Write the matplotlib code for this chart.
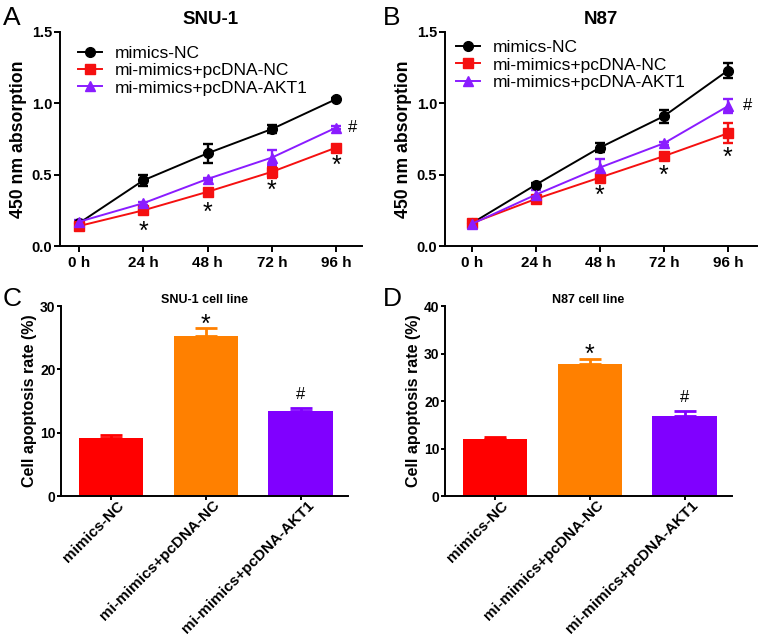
import matplotlib
matplotlib.use('Agg')
import matplotlib.pyplot as plt
from matplotlib.lines import Line2D
import matplotlib.transforms as mtransforms

plt.rcParams['font.family'] = ['Liberation Sans', 'DejaVu Sans']

# ---- data ----
hours = [0, 24, 48, 72, 96]
hour_labels = ['0 h', '24 h', '48 h', '72 h', '96 h']
series_names = ['mimics-NC', 'mi-mimics+pcDNA-NC', 'mi-mimics+pcDNA-AKT1']

snu_nc = [0.16, 0.46, 0.65, 0.82, 1.03]
snu_nc_err = [0.01, 0.04, 0.065, 0.03, 0.01]
snu_pc = [0.14, 0.25, 0.38, 0.52, 0.69]
snu_pc_err = [0.01, 0.015, 0.02, 0.04, 0.01]
snu_akt = [0.17, 0.30, 0.47, 0.62, 0.83]
snu_akt_err = [0.01, 0.01, 0.01, 0.05, 0.01]

n87_nc = [0.16, 0.43, 0.69, 0.91, 1.23]
n87_nc_err = [0.01, 0.01, 0.03, 0.045, 0.05]
n87_pc = [0.16, 0.33, 0.48, 0.63, 0.79]
n87_pc_err = [0.01, 0.02, 0.02, 0.01, 0.07]
n87_akt = [0.155, 0.36, 0.55, 0.72, 0.98]
n87_akt_err = [0.01, 0.03, 0.06, 0.01, 0.05]

snu_star = [(24, 0.10), (48, 0.23), (72, 0.39), (96, 0.56)]
snu_hash = (100.5, 0.83)
n87_star = [(48, 0.35), (72, 0.49), (96, 0.615)]
n87_hash = (101.5, 0.985)

bar_groups = ['mimics-NC', 'mi-mimics+pcDNA-NC', 'mi-mimics+pcDNA-AKT1']
snu_apop = [9.1, 25.3, 13.4]
snu_apop_err = [0.6, 1.3, 0.55]
n87_apop = [11.9, 27.9, 16.9]
n87_apop_err = [0.6, 0.9, 1.1]

line_colors = ['black', '#f51010', '#8a1cff']
bar_colors = ['#ff0000', '#ff8000', '#8000ff']
markers = ['o', 's', '^']
msizes = [7, 6.5, 7.5]

fig = plt.figure(figsize=(7.65, 6.36), dpi=100)


def style_axis(ax, ticklen, labsize):
    for s in ['top', 'right']:
        ax.spines[s].set_visible(False)
    for s in ['left', 'bottom']:
        ax.spines[s].set_linewidth(1.4)
    ax.tick_params(width=1.4, length=ticklen, labelsize=labsize, pad=1)
    for lab in ax.get_xticklabels() + ax.get_yticklabels():
        lab.set_fontweight('bold')


def line_panel(rect, title, data, xlim, stars, hashpos, leg_anchor, ylab_x):
    ax = fig.add_axes(rect)
    handles = []
    for (y, e), c, m, ms, name in zip(data, line_colors, markers, msizes, series_names):
        ax.errorbar(hours, y, yerr=e, color=c, marker=m, markersize=ms, lw=1.4,
                    elinewidth=1.7, capsize=3.8, capthick=1.7)
        handles.append(Line2D([], [], color=c, marker=m, markersize=ms, lw=1.4, label=name))
    ax.set_xlim(*xlim)
    ax.set_ylim(0, 1.5)
    ax.set_yticks([0, 0.5, 1.0, 1.5])
    ax.set_xticks(hours)
    ax.set_xticklabels(hour_labels)
    ax.set_ylabel('450 nm absorption', fontsize=12.7, fontweight='bold')
    ax.yaxis.set_label_coords(ylab_x, 0.5)
    ax.set_title(title, fontsize=13.5, fontweight='bold', pad=6)
    style_axis(ax, 4.5, 10.5)
    ax.tick_params(axis='x', labelsize=11, pad=3)
    for x, y in stars:
        ax.text(x, y, '*', ha='center', va='center', fontsize=18)
    ax.text(hashpos[0], hashpos[1], '#', ha='left', va='center', fontsize=12)
    ax.legend(handles=handles, loc='upper left', bbox_to_anchor=leg_anchor, frameon=False,
              fontsize=12.5, borderpad=0, borderaxespad=0, handlelength=1.4,
              handletextpad=0.7, labelspacing=0.12)
    return ax


def bar_panel(rect, title, vals, errs, ymax, star_y, hash_y, ylab_x):
    ax = fig.add_axes(rect)
    xs = range(len(vals))
    for x, v, e, c in zip(xs, vals, errs, bar_colors):
        ax.bar(x, v, width=0.68, color=c)
        ax.errorbar(x, v, yerr=[[0], [e]], color=c, elinewidth=2, capsize=8, capthick=2)
    ax.set_xlim(-0.53, 2.5)
    ax.set_ylim(0, ymax)
    ax.set_yticks(range(0, ymax + 1, 10))
    ax.set_xticks(list(xs))
    ax.set_xticklabels(bar_groups, rotation=45, ha='right', va='top',
                       rotation_mode='anchor', fontsize=11)
    ax.set_ylabel('Cell apoptosis rate (%)', fontsize=11.5, fontweight='bold')
    ax.yaxis.set_label_coords(ylab_x, 0.5)
    ax.set_title(title, fontsize=9, fontweight='bold', pad=2)
    style_axis(ax, 3, 10)
    ax.tick_params(axis='x', labelsize=11, length=3, pad=0)
    shift = mtransforms.ScaledTranslation(6 / 100, 2 / 100, fig.dpi_scale_trans)
    for lab in ax.get_xticklabels():
        lab.set_transform(lab.get_transform() + shift)
    ax.text(1, star_y, '*', ha='center', va='center', fontsize=18)
    ax.text(2, hash_y, '#', ha='center', va='center', fontsize=12)
    return ax


line_panel([0.0784, 0.6132, 0.3948, 0.3365], 'SNU-1',
           [(snu_nc, snu_nc_err), (snu_pc, snu_pc_err), (snu_akt, snu_akt_err)],
           (-7.1, 105.6), snu_star, snu_hash, (0.06, 0.935), -0.109)
line_panel([0.5817, 0.6132, 0.4078, 0.3365], 'N87',
           [(n87_nc, n87_nc_err), (n87_pc, n87_pc_err), (n87_akt, n87_akt_err)],
           (-10.1, 106.9), n87_star, n87_hash, (0.035, 0.962), -0.106)

bar_panel([0.0797, 0.2201, 0.3752, 0.2987], 'SNU-1 cell line',
          snu_apop, snu_apop_err, 30, 27.0, 16, -0.084)
bar_panel([0.5817, 0.2201, 0.3752, 0.2987], 'N87 cell line',
          n87_apop, n87_apop_err, 40, 29.8, 20.7, -0.084)

for lbl, x, y in [('A', 0.004, 0.99), ('B', 0.5, 0.99), ('C', 0.004, 0.548), ('D', 0.5, 0.548)]:
    fig.text(x, y, lbl, fontsize=19, ha='left', va='top')

fig.savefig('out.png', dpi=100)
